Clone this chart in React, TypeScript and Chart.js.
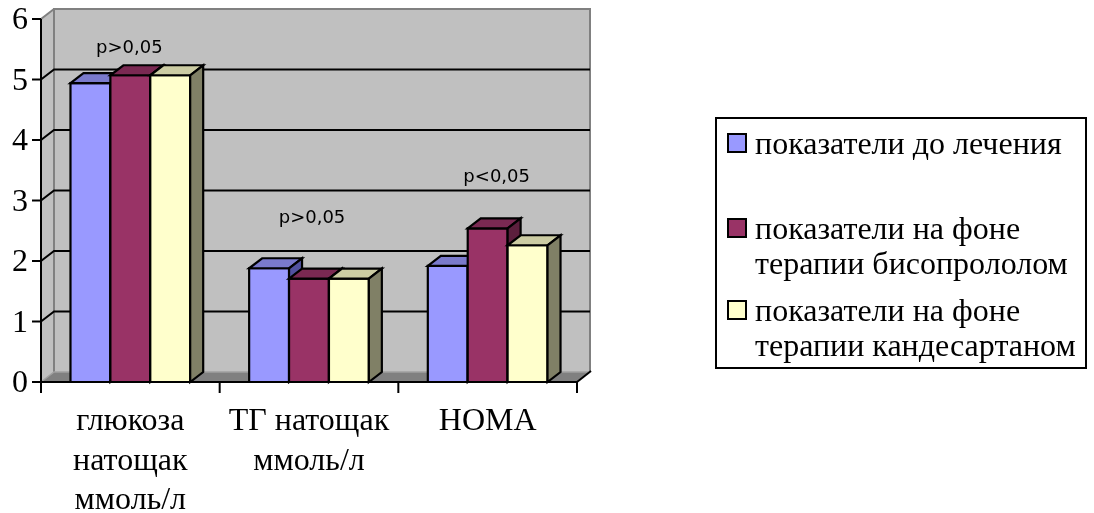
import { useEffect, useRef } from 'react';
import { Chart, registerables } from 'chart.js';

Chart.register(...registerables);

// Category labels (one entry per text line)
const categories: string[][] = [
  ['глюкоза', 'натощак', 'ммоль/л'],
  ['ТГ натощак', 'ммоль/л'],
  ['НОМА'],
];

// Series values
const beforeTreatment = [4.94, 1.88, 1.92];
const bisoprololTherapy = [5.07, 1.71, 2.54];
const candesartanTherapy = [5.07, 1.71, 2.26];

// Legend text, split into lines
const seriesNames: string[][] = [
  ['показатели до лечения'],
  ['показатели на фоне', 'терапии бисопрололом'],
  ['показатели на фоне', 'терапии кандесартаном'],
];

const yTicks = [0, 1, 2, 3, 4, 5, 6];

// Significance notes above each group and the value level they sit at
const pValueNotes = ['p>0,05', 'p>0,05', 'p<0,05'];
const pValueLevels = [5.52, 2.71, 3.39];

// Colours: front, top, side faces
const frontColors = ['#9999FF', '#993366', '#FFFFCC'];
const topColors = ['#7A7ACC', '#7A2952', '#CCCCA3'];
const sideColors = ['#5252A0', '#5C1F3D', '#808066'];

const DX = 13;
const DY = -10;
const SERIF = '"Liberation Serif", "Times New Roman", serif';
const SANS = '"DejaVu Sans", Verdana, sans-serif';

function poly(ctx: CanvasRenderingContext2D, pts: number[][], fill: string | null, stroke: string | null, lw = 2) {
  ctx.beginPath();
  ctx.moveTo(pts[0][0], pts[0][1]);
  for (let i = 1; i < pts.length; i++) ctx.lineTo(pts[i][0], pts[i][1]);
  ctx.closePath();
  if (fill) {
    ctx.fillStyle = fill;
    ctx.fill();
  }
  if (stroke) {
    ctx.strokeStyle = stroke;
    ctx.lineWidth = lw;
    ctx.stroke();
  }
}

function line(ctx: CanvasRenderingContext2D, pts: number[][], color: string, lw = 2) {
  ctx.beginPath();
  ctx.moveTo(pts[0][0], pts[0][1]);
  for (let i = 1; i < pts.length; i++) ctx.lineTo(pts[i][0], pts[i][1]);
  ctx.strokeStyle = color;
  ctx.lineWidth = lw;
  ctx.stroke();
}

const chart3d = {
  id: 'chart3d',
  beforeDatasetsDraw(chart: any) {
    const ctx: CanvasRenderingContext2D = chart.ctx;
    const ys = chart.scales.y;
    const xL = chart.chartArea.left;
    const xR = chart.chartArea.right;
    const yTop = ys.getPixelForValue(yTicks[yTicks.length - 1]);
    const yBot = ys.getPixelForValue(0);
    ctx.save();
    ctx.lineJoin = 'miter';
    ctx.lineCap = 'butt';
    // back wall
    poly(ctx, [[xL + DX, yTop + DY], [xR + DX, yTop + DY], [xR + DX, yBot + DY], [xL + DX, yBot + DY]], '#C0C0C0', null);
    // left wall
    poly(ctx, [[xL, yBot], [xL, yTop], [xL + DX, yTop + DY], [xL + DX, yBot + DY]], '#C0C0C0', null);
    // floor
    poly(ctx, [[xL, yBot], [xR, yBot], [xR + DX, yBot + DY], [xL + DX, yBot + DY]], '#808080', null);
    // wall edges
    line(ctx, [[xL + DX, yBot + DY], [xL + DX, yTop + DY], [xR + DX, yTop + DY], [xR + DX, yBot + DY]], '#808080', 2);
    line(ctx, [[xL, yTop], [xL + DX, yTop + DY]], '#808080', 2);
    line(ctx, [[xL, yBot], [xL + DX, yBot + DY], [xR + DX, yBot + DY]], '#A0A0A0', 1.5);
    // grid lines
    for (const v of yTicks) {
      if (v === 0 || v === yTicks[yTicks.length - 1]) continue;
      const py = ys.getPixelForValue(v);
      line(ctx, [[xL, py], [xL + DX, py + DY], [xR + DX, py + DY]], '#000000', 2);
    }
    // floor right edge
    line(ctx, [[xR, yBot], [xR + DX + 1, yBot + DY - 1]], '#000000', 2);
    ctx.restore();
  },
  afterDatasetsDraw(chart: any) {
    const ctx: CanvasRenderingContext2D = chart.ctx;
    const ys = chart.scales.y;
    const xs = chart.scales.x;
    const n = chart.data.labels.length;
    ctx.save();
    ctx.lineJoin = 'miter';
    // bars as prisms, drawn left to right so that nearer faces overlap
    for (let i = 0; i < n; i++) {
      chart.data.datasets.forEach((_ds: any, d: number) => {
        const el = chart.getDatasetMeta(d).data[i];
        const { x, y, base, width } = el.getProps(['x', 'y', 'base', 'width'], true);
        const l = x - width / 2;
        const r = x + width / 2;
        poly(ctx, [[l, y], [r, y], [r, base], [l, base]], frontColors[d], '#000000', 2.2);
        poly(ctx, [[l, y], [r, y], [r + DX, y + DY], [l + DX, y + DY]], topColors[d], '#000000', 2.2);
        poly(ctx, [[r, y], [r + DX, y + DY], [r + DX, base + DY], [r, base]], sideColors[d], '#000000', 2.2);
      });
    }
    // axes
    const xL = chart.chartArea.left;
    const xR = chart.chartArea.right;
    const yTop = ys.getPixelForValue(yTicks[yTicks.length - 1]);
    const yBot = ys.getPixelForValue(0);
    line(ctx, [[xL, yTop], [xL, yBot + 1]], '#000000', 2);
    line(ctx, [[xL - 9, yBot], [xR, yBot]], '#000000', 2);
    ctx.font = '32px ' + SERIF;
    ctx.fillStyle = '#000000';
    ctx.textAlign = 'right';
    ctx.textBaseline = 'alphabetic';
    for (const v of yTicks) {
      const py = ys.getPixelForValue(v);
      line(ctx, [[xL - 9, py], [xL, py]], '#000000', 2);
      ctx.fillText(String(v), xL - 13, py + 10);
    }
    const catW = (xR - xL) / n;
    for (let i = 0; i <= n; i++) {
      const px = xL + i * catW;
      line(ctx, [[px, yBot], [px, yBot + 11]], '#000000', 2);
    }
    ctx.textAlign = 'center';
    categories.forEach((lines, i) => {
      const cx = xs.getPixelForValue(i);
      lines.forEach((t, k) => {
        ctx.fillText(t, cx, yBot + 48 + k * 39.5);
      });
    });
    // significance notes
    ctx.font = '18px ' + SANS;
    ctx.textBaseline = 'middle';
    const noteShift = [-1, 3, 9];
    pValueNotes.forEach((t, i) => {
      ctx.fillText(t, xs.getPixelForValue(i) + noteShift[i], ys.getPixelForValue(pValueLevels[i]));
    });
    ctx.restore();
  },
  afterDraw(chart: any) {
    const ctx: CanvasRenderingContext2D = chart.ctx;
    ctx.save();
    // legend box
    const bx = 716, by = 118, bw = 370, bh = 250;
    ctx.strokeStyle = '#000000';
    ctx.lineWidth = 2;
    ctx.strokeRect(bx, by, bw, bh);
    const firstBaselines = [154, 239, 321];
    ctx.font = '32px ' + SERIF;
    ctx.textAlign = 'left';
    ctx.textBaseline = 'alphabetic';
    chart.data.datasets.forEach((ds: any, d: number) => {
      const base = firstBaselines[d];
      ctx.fillStyle = ds.backgroundColor;
      ctx.fillRect(728, base - 20, 18, 18);
      ctx.strokeStyle = '#000000';
      ctx.lineWidth = 2;
      ctx.strokeRect(728, base - 20, 18, 18);
      ctx.fillStyle = '#000000';
      seriesNames[d].forEach((t, k) => {
        ctx.fillText(t, 755, base + k * 35);
      });
    });
    ctx.restore();
  },
};

export default function App() {
  const canvasRef = useRef<HTMLCanvasElement | null>(null);

  useEffect(() => {
    document.body.style.margin = '0';
    const canvas = canvasRef.current;
    if (!canvas) return;
    const chart = new Chart(canvas, {
      type: 'bar',
      data: {
        labels: categories.map((c) => c.join(' ')),
        datasets: [
          { label: seriesNames[0].join(' '), data: beforeTreatment, backgroundColor: frontColors[0] },
          { label: seriesNames[1].join(' '), data: bisoprololTherapy, backgroundColor: frontColors[1] },
          { label: seriesNames[2].join(' '), data: candesartanTherapy, backgroundColor: frontColors[2] },
        ],
      },
      options: {
        responsive: false,
        animation: false,
        devicePixelRatio: 1,
        layout: { padding: { left: 41, right: 517, top: 19, bottom: 131 } },
        datasets: { bar: { categoryPercentage: 0.67, barPercentage: 1, borderWidth: 0 } },
        scales: {
          x: { display: false, offset: true },
          y: { display: false, min: 0, max: 6 },
        },
        plugins: { legend: { display: false }, tooltip: { enabled: false } },
      },
      plugins: [chart3d],
    });
    return () => chart.destroy();
  }, []);

  return <canvas ref={canvasRef} width={1094} height={513} style={{ display: 'block' }} />;
}
